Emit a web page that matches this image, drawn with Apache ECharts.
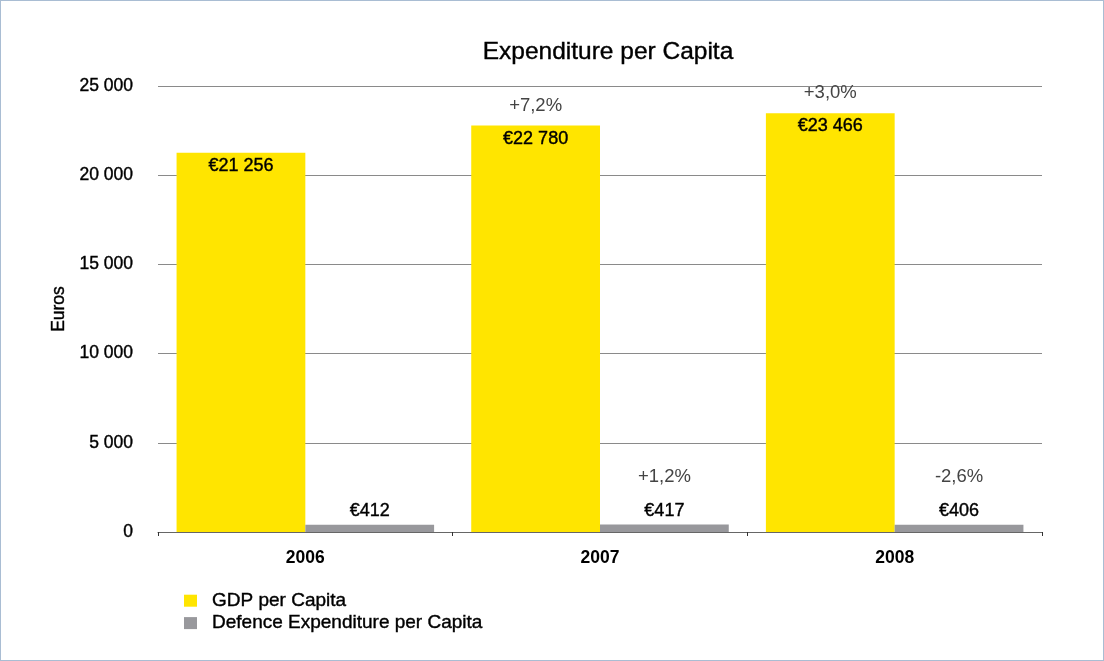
<!DOCTYPE html>
<html>
<head>
<meta charset="utf-8">
<script src="https://cdn.jsdelivr.net/npm/echarts@6/dist/echarts.min.js"></script>
<style>
html,body{margin:0;padding:0;background:#fff;}
#frame{position:absolute;left:0;top:0;width:1102px;height:659px;border:1px solid #a9bdd3;box-sizing:content-box;}
#chart{position:absolute;left:0;top:0;width:1104px;height:661px;}
</style>
</head>
<body>
<div id="frame"></div>
<div id="chart"></div>
<script>
var categories = ['2006', '2007', '2008'];
var gdpValues = [21256, 22780, 23466];
var defenceValues = [412, 417, 406];
var gdpLabels = ['€21 256', '€22 780', '€23 466'];
var defenceLabels = ['€412', '€417', '€406'];
var gdpChange = ['', '+7,2%', '+3,0%'];
var defenceChange = ['', '+1,2%', '-2,6%'];
var yTicks = [0, 5000, 10000, 15000, 20000, 25000];

var FONT = '"Liberation Sans", Arial, Helvetica, sans-serif';
var MED = { textBorderColor: '#000', textBorderWidth: 0.4 };
var chart = echarts.init(document.getElementById('chart'));
function fmtTick(v){ return String(v).replace(/\B(?=(\d{3})+(?!\d))/g, ' '); }
function med(o){ return Object.assign({}, MED, o); }

chart.setOption({
  backgroundColor: 'transparent',
  textStyle: { fontFamily: FONT },
  title: {
    text: 'Expenditure per Capita',
    left: 603, textAlign: 'center', top: 35,
    textStyle: med({ fontFamily: FONT, fontSize: 24.5, fontWeight: 'normal', color: '#000' })
  },
  legend: {
    orient: 'vertical', left: 179, top: 586,
    itemWidth: 13, itemHeight: 12, itemGap: 3,
    icon: 'rect',
    textStyle: med({ fontFamily: FONT, fontSize: 19, color: '#000', padding: [0, 0, 0, 10] }),
    data: ['GDP per Capita', 'Defence Expenditure per Capita']
  },
  grid: { left: 158, right: 62, top: 86, bottom: 129, containLabel: false },
  xAxis: {
    type: 'category', data: categories,
    axisLine: { lineStyle: { color: '#666', width: 1 } },
    axisTick: { show: true, length: 4, lineStyle: { color: '#333' } },
    axisLabel: { fontFamily: FONT, fontSize: 17.5, fontWeight: 'bold', color: '#000', margin: 17 }
  },
  yAxis: {
    type: 'value', min: 0, max: 25000, interval: 5000,
    name: 'Euros', nameLocation: 'middle', nameGap: 87, nameRotate: 90,
    nameTextStyle: med({ fontFamily: FONT, fontSize: 17.5, color: '#000' }),
    axisLine: { show: false }, axisTick: { show: false },
    splitLine: { lineStyle: { color: '#8a8a8a', width: 1 } },
    axisLabel: med({ fontFamily: FONT, fontSize: 17.5, color: '#000', margin: 25,
      formatter: function(v){ return yTicks.indexOf(v) >= 0 ? fmtTick(v) : ''; } })
  },
  series: [
    {
      name: 'GDP per Capita', type: 'bar', data: gdpValues,
      barGap: '0%', barCategoryGap: '12.6%',
      itemStyle: { color: '#FFE500' },
      label: {
        show: true, position: 'insideTop', distance: 0, offset: [0, -41],
        formatter: function(p){ return '{p|' + (gdpChange[p.dataIndex] || ' ') + '}\n{v|' + gdpLabels[p.dataIndex] + '}'; },
        rich: {
          p: { fontFamily: FONT, fontSize: 18.5, color: '#444', lineHeight: 42 },
          v: med({ fontFamily: FONT, fontSize: 18, color: '#000', lineHeight: 24 })
        }
      }
    },
    {
      name: 'Defence Expenditure per Capita', type: 'bar', data: defenceValues,
      itemStyle: { color: '#98989c' },
      label: {
        show: true, position: 'top', distance: 4,
        formatter: function(p){ return '{p|' + (defenceChange[p.dataIndex] || ' ') + '}\n{v|' + defenceLabels[p.dataIndex] + '}'; },
        rich: {
          p: { fontFamily: FONT, fontSize: 18.5, color: '#444', lineHeight: 48 },
          v: med({ fontFamily: FONT, fontSize: 18, color: '#000', lineHeight: 20 })
        }
      }
    }
  ]
});
</script>
</body>
</html>
